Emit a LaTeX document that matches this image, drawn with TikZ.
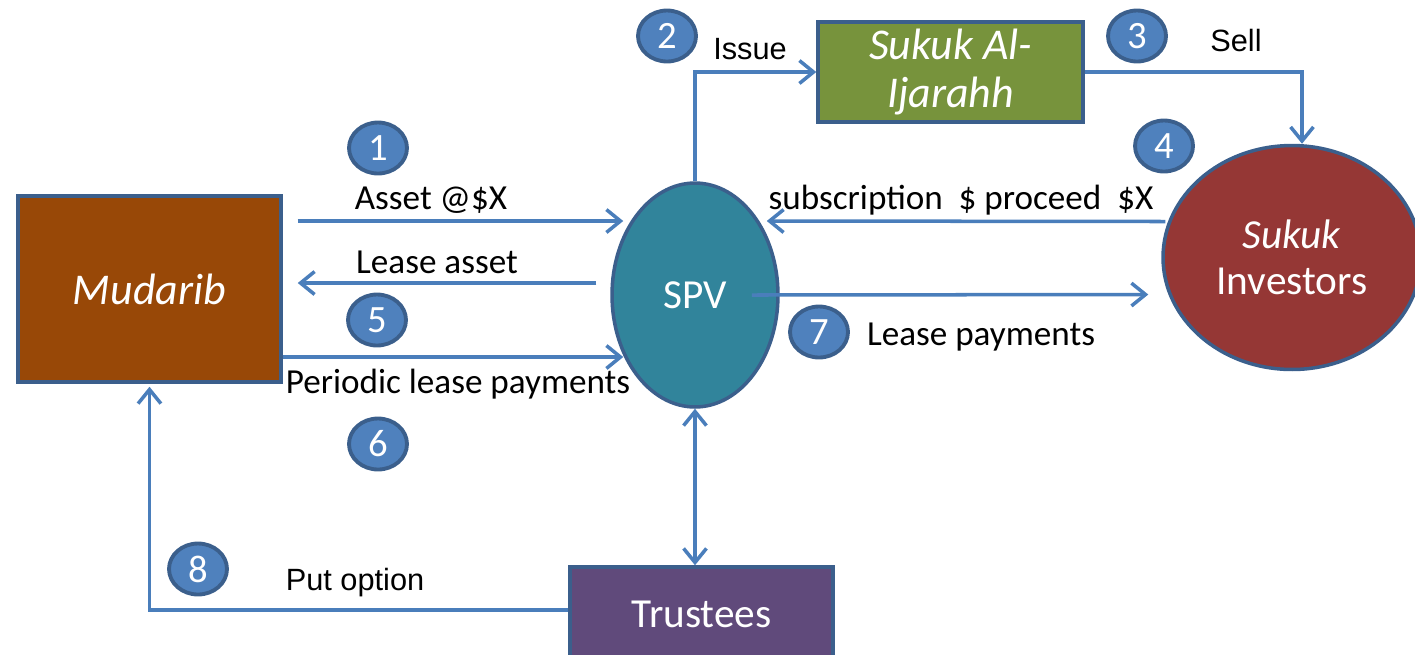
\documentclass[tikz,border=0pt]{standalone}
\usepackage{fontspec}
\setmainfont{Carlito}
\newfontfamily\arialfont{Liberation Sans}
\usetikzlibrary{positioning, arrows.meta, calc, shapes.geometric}

\definecolor{linkblue}{HTML}{4A7EBB}
\definecolor{edgeblue}{HTML}{3B5F8C}
\definecolor{mudbrown}{HTML}{984807}
\definecolor{sukgreen}{HTML}{77933C}
\definecolor{spvteal}{HTML}{31849B}
\definecolor{invred}{HTML}{953735}
\definecolor{trustpurple}{HTML}{604A7B}
\definecolor{stepblue}{HTML}{4F81BD}

\begin{document}
\begin{tikzpicture}[
    x=0.02cm, y=-0.02cm,
    party/.style={draw=edgeblue, line width=2pt, text=white, align=center,
                  inner sep=0pt, font=\fontsize{23.5}{26}\selectfont},
    box/.style={party, rectangle},
    oval/.style={party, ellipse},
    num/.style={ellipse, draw=edgeblue, line width=2.2pt, fill=stepblue, text=white,
                minimum width=1.16cm, minimum height=1.02cm, inner sep=0pt,
                font=\fontsize{22}{24}\selectfont},
    arr/.style={-{Straight Barb[length=8pt, width=13pt]}, line width=2pt, linkblue},
    dblarr/.style={{Straight Barb[length=8pt, width=13pt]}-{Straight Barb[length=8pt, width=13pt]},
                   line width=2pt, linkblue},
    lbl/.style={inner sep=0pt, font=\fontsize{20}{22}\selectfont},
    albl/.style={inner sep=0pt, font=\arialfont\fontsize{17.5}{20}\selectfont},
]
\useasboundingbox (0,0) rectangle (1415,654);

% parties
\node[box, fill=mudbrown, minimum width=5.26cm, minimum height=3.72cm,
      font=\fontsize{25}{28}\selectfont] (mud) at (149.5,289) {\textit{Mudarib}};
\node[box, fill=sukgreen, minimum width=5.3cm, minimum height=2.0cm,
      font=\fontsize{25}{27}\selectfont] (suk) at (950.5,72) {\textit{Sukuk Al-}\\\textit{Ijarahh}};
\node[oval, fill=spvteal, minimum width=3.32cm, minimum height=4.48cm] (spv) at (695,295) {SPV};
\node[oval, fill=invred, minimum width=5.16cm, minimum height=4.48cm] (inv) at (1292,257.5) {\textit{Sukuk}\\Investors};
\node[box, fill=trustpurple, minimum width=5.26cm, minimum height=1.88cm] (trust) at (701.5,614) {Trustees};

% step numbers
\node[num] (n1) at (378,148) {1};
\node[num] (n2) at (667,36) {2};
\node[num] (n3) at (1137,36) {3};
\node[num] (n4) at (1164,146) {4};
\node[num] (n5) at (377,320) {5};
\node[num] (n6) at (378,444) {6};
\node[num] (n7) at (819,332) {7};
\node[num] (n8) at (198,569) {8};

% flows
\draw[arr] ($(mud.east)+(15,-68)$) -- ($(spv.west)+(13,-74)$);
\draw[arr] ($(spv.west)+(-14,-12)$) -- ($(mud.east)+(15,-6)$);
\draw[arr] ($(mud.east)+(0,68)$) -- ($(spv.west)+(13,62)$);
\draw[arr] (spv.north) |- (suk.west);
\draw[arr] (suk.east) -| ($(inv.north)+(10,0)$);
\draw[arr] ($(inv.west)+(4,-36)$) -- ($(spv.east)+(-13,-74)$);
\draw[arr] ($(spv.east)+(-28,0)$) -- ($(inv.west)+(-13,37)$);
\draw[dblarr] (spv.south) -- (spv.south |- trust.north);
\draw[arr] ($(trust.west)+(0,-4)$) -| ($(mud.south)+(0,3)$);

% labels
\node[lbl] (lasset) at (431,200) {Asset @\$X};
\node[lbl] (llease) at (437,262) {Lease asset};
\node[lbl] (lperiod) at (458,384) {Periodic lease payments};
\node[lbl] (lsubs) at (961,200) {subscription \ \$ proceed \ \$X};
\node[lbl] (lpay) at (981,337) {Lease payments};
\node[albl] (lissue) at (750,49) {Issue};
\node[albl] (lsell) at (1236,40) {Sell};
\node[albl] (lput) at (355,583) {Put option};

\end{tikzpicture}
\end{document}
